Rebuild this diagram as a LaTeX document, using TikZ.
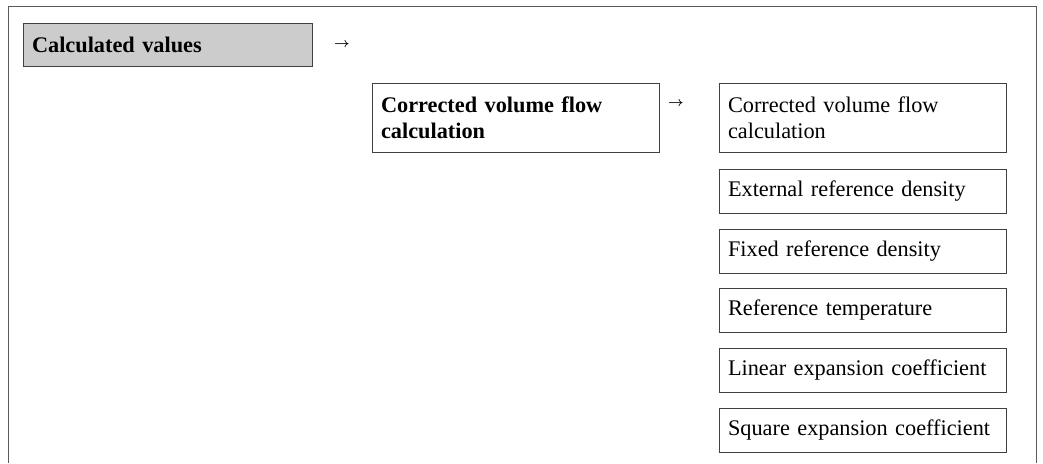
\documentclass[tikz,border=0pt]{standalone}
\usepackage{fontspec}
\setmainfont{Liberation Serif}
\begin{document}
\begin{tikzpicture}[x=1pt,y=-1pt,
  box/.style={draw=black!75, line width=0.9pt, anchor=north west, inner xsep=9pt, inner ysep=0pt,
    outer sep=0pt, align=left, text width=269pt, font=\fontsize{22.3}{26}\selectfont},
  onerow/.style={box, minimum height=44pt},
  tworow/.style={box, minimum height=69pt},
  menu/.style={fill=black!20, text width=271pt, font=\fontsize{22.3}{26}\selectfont\bfseries},
  arr/.style={inner sep=0pt, font=\fontsize{10}{10}\selectfont\boldmath},
  frame/.style={draw=black!65, line width=1pt}]
\useasboundingbox (0,0) rectangle (1043,463);
\draw[frame] (8.5,463) -- (8.5,6.5) -- (1036.5,6.5) -- (1036.5,463);
\node[onerow, menu, minimum height=43pt] (calc) at (23,23) {Calculated values};
\node[arr] (a1) at (342,44.5) {\scalebox{1.35}{$\rightarrow$}};
\node[tworow, font=\fontsize{22.3}{26}\selectfont\bfseries] (cvf) at (372,83) {Corrected volume flow\\calculation};
\node[arr] (a2) at (676,103.5) {\scalebox{1.35}{$\rightarrow$}};
\node[tworow] (p1) at (719,83) {Corrected volume flow\\calculation};
\node[onerow] (p2) at (719,169) {External reference density};
\node[onerow] (p3) at (719,229) {Fixed reference density};
\node[onerow] (p4) at (719,288.5) {Reference temperature};
\node[onerow] (p5) at (719,348) {Linear expansion coefficient};
\node[onerow] (p6) at (719,408) {Square expansion coefficient};
\end{tikzpicture}
\end{document}
